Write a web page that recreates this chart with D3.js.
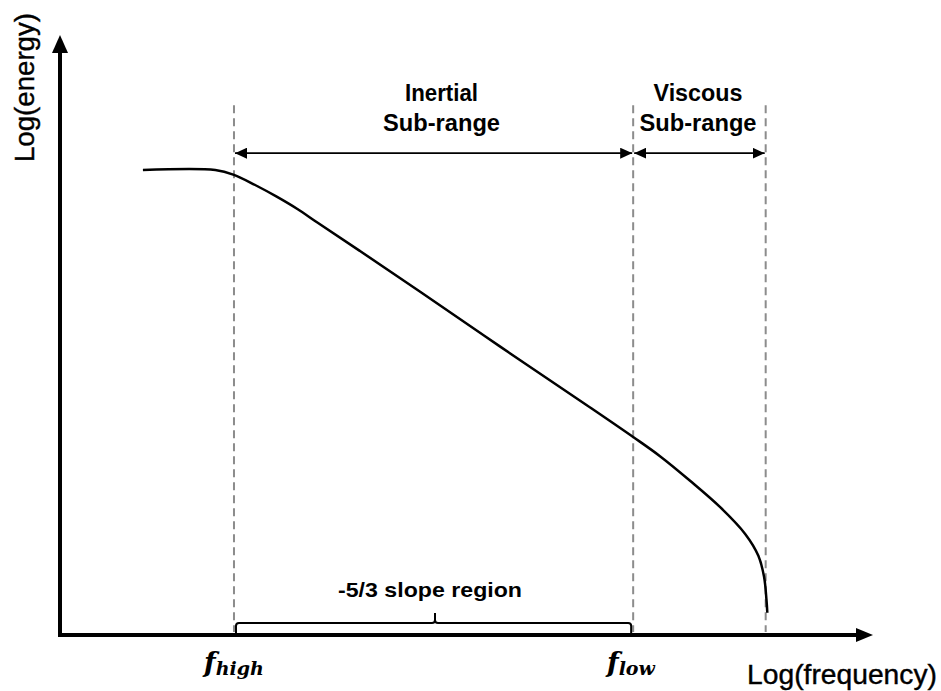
<!DOCTYPE html>
<html><head><meta charset="utf-8">
<script src="https://cdn.jsdelivr.net/npm/d3@7"></script>
<style>
body{margin:0;background:#fff;}
svg{display:block;}
text{font-family:"Liberation Sans",Arial,sans-serif;fill:#000;}
</style></head>
<body>
<script>
// Spectrum curve (log frequency, log energy) in arbitrary units
const logFreq   = [1.02, 1.91, 2.14, 2.40, 2.66, 2.92, 3.17, 3.69, 4.43, 5.41, 6.48, 7.05, 7.38, 7.75, 8.12, 8.43, 8.59, 8.66, 8.69, 8.70];
const logEnergy = [7.75, 7.75, 7.67, 7.50, 7.31, 7.10, 6.87, 6.40, 5.72, 4.81, 3.83, 3.30, 2.98, 2.57, 2.13, 1.68, 1.32, 0.97, 0.58, 0.37];
// Boundary frequencies (dashed lines)
const boundaryNames = ["f_high", "f_low", "f_end"];
const boundaries = [2.14, 7.05, 8.68];
const rangeLabels = [["Inertial", "Sub-range"], ["Viscous", "Sub-range"]];
const slopeLabel = "-5/3 slope region";
const axisLabels = ["Log(frequency)", "Log(energy)"];

const W = 941, H = 691;
const x = d3.scaleLinear().domain([0, 10]).range([60, 873]);
const y = d3.scaleLinear().domain([0, 10]).range([635, 35]);

const svg = d3.select("body").append("svg").attr("width", W).attr("height", H);
const defs = svg.append("defs");
defs.append("marker").attr("id", "ah").attr("viewBox", "0 0 12 11").attr("refX", 12).attr("refY", 5.5)
  .attr("markerWidth", 12).attr("markerHeight", 11).attr("markerUnits", "userSpaceOnUse").attr("orient", "auto-start-reverse")
  .append("path").attr("d", "M0,0 L12,5.5 L0,11 Z").attr("fill", "#000");

// dashed boundary lines
svg.selectAll("line.bound").data(boundaries).join("line").attr("class", "bound")
  .attr("x1", d => x(d)).attr("x2", d => x(d)).attr("y1", y(8.83)).attr("y2", y(0.05))
  .attr("stroke", "#8c8c8c").attr("stroke-width", 2).attr("stroke-dasharray", "8,5");

// axes with arrowheads
svg.append("line").attr("x1", x(0) - 2).attr("x2", x(10) - 16).attr("y1", y(0)).attr("y2", y(0))
  .attr("stroke", "#000").attr("stroke-width", 4);
svg.append("path").attr("d", `M${x(10)},${y(0)} L${x(10)-17},${y(0)-7} L${x(10)-17},${y(0)+7} Z`).attr("fill", "#000");
svg.append("line").attr("x1", x(0)).attr("x2", x(0)).attr("y1", y(0) + 2).attr("y2", y(10) + 17)
  .attr("stroke", "#000").attr("stroke-width", 4);
svg.append("path").attr("d", `M${x(0)},${y(10)} L${x(0)-8},${y(10)+18} L${x(0)+8},${y(10)+18} Z`).attr("fill", "#000");

// curve
const pts = logFreq.map((f, i) => [f, logEnergy[i]]);
svg.append("path").datum(pts)
  .attr("d", d3.line().x(d => x(d[0])).y(d => y(d[1])).curve(d3.curveCatmullRom.alpha(0.5)))
  .attr("fill", "none").attr("stroke", "#000").attr("stroke-width", 2.5);

// range arrows
const arrowY = y(8.03);
[[boundaries[0], boundaries[1]], [boundaries[1], boundaries[2]]].forEach(([a, b]) => {
  svg.append("line").attr("x1", x(a) + 1).attr("x2", x(b) - 1).attr("y1", arrowY).attr("y2", arrowY)
    .attr("stroke", "#000").attr("stroke-width", 1.8)
    .attr("marker-start", "url(#ah)").attr("marker-end", "url(#ah)");
});
const labelCx = [441.5, 698];
const labelLen = [[73, 117], [89, 117]];
rangeLabels.forEach((lines, i) => {
  lines.forEach((t, j) => {
    svg.append("text").attr("x", labelCx[i]).attr("y", 101 + j * 29.5).attr("text-anchor", "middle")
      .attr("font-size", 23).attr("font-weight", "bold")
      .attr("textLength", labelLen[i][j]).attr("lengthAdjust", "spacingAndGlyphs").text(t);
  });
});

// brace
const bx0 = x(boundaries[0]) + 2, bx1 = x(boundaries[1]) - 2, by = 623, bmid = 435;
svg.append("path")
  .attr("d", `M${bx0},${y(0)-2} L${bx0},${by+3} Q${bx0},${by} ${bx0+3},${by} L${bmid-3},${by} Q${bmid},${by} ${bmid},${by-3} L${bmid},${by-10} M${bmid},${by-3} Q${bmid},${by} ${bmid+3},${by} L${bx1-3},${by} Q${bx1},${by} ${bx1},${by+3} L${bx1},${y(0)-2}`)
  .attr("fill", "none").attr("stroke", "#000").attr("stroke-width", 2);
svg.append("text").attr("x", 430).attr("y", 597).attr("text-anchor", "middle").attr("font-size", 21)
  .attr("font-weight", "bold").attr("textLength", 184).attr("lengthAdjust", "spacingAndGlyphs").text(slopeLabel);

// f labels
function fLabel(cx, sub) {
  const t = svg.append("text").attr("x", cx).attr("y", 672)
    .style("font-family", "'DejaVu Serif','Liberation Serif',serif").style("font-style", "italic").style("font-weight", "bold");
  t.append("tspan").attr("font-size", 27).text("f");
  t.append("tspan").attr("font-size", 19).attr("dy", 3).text(sub);
}
fLabel(204, "high");
fLabel(607, "low");

// axis titles
svg.append("text").attr("x", 747).attr("y", 684).attr("font-size", 28)
  .attr("stroke", "#000").attr("stroke-width", 0.4)
  .attr("textLength", 190).attr("lengthAdjust", "spacingAndGlyphs").text(axisLabels[0]);
svg.append("text").attr("transform", "translate(34,162) rotate(-90)").attr("font-size", 28)
  .attr("stroke", "#000").attr("stroke-width", 0.4)
  .attr("textLength", 149).attr("lengthAdjust", "spacingAndGlyphs").text(axisLabels[1]);
</script>
</body></html>
